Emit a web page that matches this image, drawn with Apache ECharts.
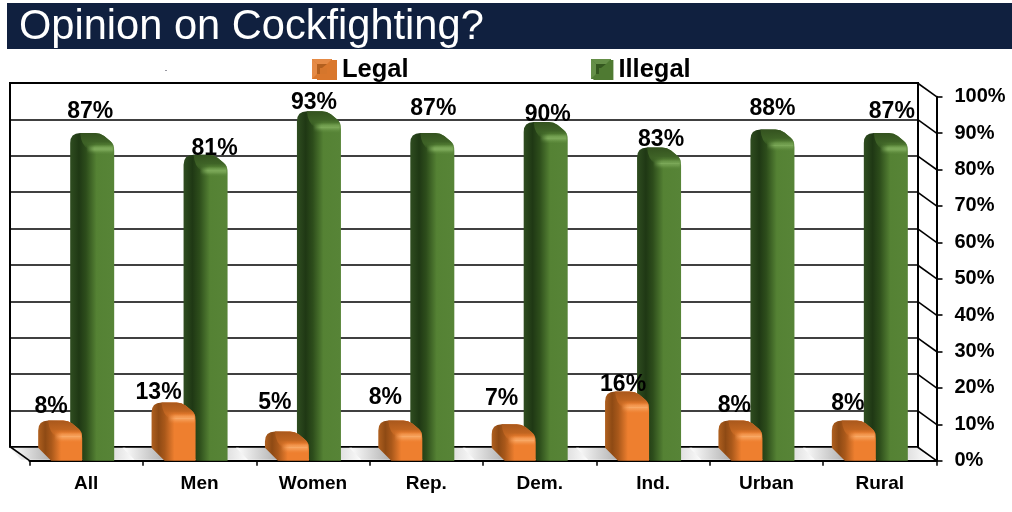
<!DOCTYPE html>
<html><head><meta charset="utf-8">
<style>html,body{margin:0;padding:0;background:#fff}#c{width:1012px;height:512px}</style>
<script src="https://cdn.jsdelivr.net/npm/echarts@6/dist/echarts.min.js"></script>
</head><body><div id="c"></div>
<script>
const categories = ['All','Men','Women','Rep.','Dem.','Ind.','Urban','Rural'];
const legal = [8,13,5,8,7,16,8,8];
const illegal = [87,81,93,87,90,83,88,87];
const tickValues = [0,10,20,30,40,50,60,70,80,90,100];
// label nudges relative to the bar's category centre and value position
const legalNudge = [[-35,-25],[-41,-21],[-38,-40],[-41,-34],[-38,-37],[-30,-18],[-32,-26],[-32,-28]];
const illegalNudge = [[4,-32],[15,-17],[1,-20],[7,-35],[8,-18],[8,-19],[6,-32],[12,-32]];

const FONT = '"Liberation Sans", Arial, sans-serif';
const orangePal = {
  side:[[0,'#b0601f'],[0.16,'#8e4a14'],[0.3,'#a9581a'],[0.52,'#ee7f2f'],[1,'#ee7f2f']],
  top:[[0,'#a9581c'],[0.55,'rgba(190,100,32,0.95)'],[1,'rgba(238,127,47,0)']],
  hi:'rgba(248,168,101,1)', hi0:'rgba(248,168,101,0)'
};
const greenPal = {
  side:[[0,'#2f4d20'],[0.2,'#1f3814'],[0.36,'#2d4d1b'],[0.6,'#558234'],[1,'#578437']],
  top:[[0,'#34521f'],[0.55,'rgba(62,98,38,0.95)'],[1,'rgba(87,132,55,0)']],
  hi:'rgba(123,168,88,1)', hi0:'rgba(123,168,88,0)'
};
function barRender(pal, fxOff){
  return function(params, api){
    const i = api.value(0), v = api.value(1);
    const c = api.coord([i, v]);
    const b = api.coord([i, 0])[1];
    const L = c[0] + fxOff - 13, F = c[0] + fxOff, R = F + 31;
    const T = c[1] - 11;
    const body = `M${F} ${b} L${L} ${b-13} L${L} ${T+10} Q${L} ${T} ${L+10} ${T} L${R-19} ${T} Q${R-14} ${T} ${R-10} ${T+3} L${R-4} ${T+8} Q${R} ${T+11} ${R} ${T+18} L${R} ${b} Z`;
    const top = `M${L+10} ${T} L${R-19} ${T} Q${R-14} ${T} ${R-10} ${T+3} L${R-4} ${T+8} Q${R} ${T+11} ${R} ${T+16} L${F+5} ${T+16} Q${F-2} ${T+12} ${L+10} ${T} Z`;
    const stops = a => a.map(s => ({offset:s[0], color:s[1]}));
    const hiFill = {type:'linear',x:0,y:0,x2:1,y2:0,colorStops:[
      {offset:0,color:pal.hi0},{offset:0.3,color:pal.hi},{offset:0.93,color:pal.hi},{offset:1,color:pal.hi0}]};
    const band = (dy,h,op) => ({type:'rect', shape:{x:F+3,y:T+dy,width:R-F-3,height:h}, style:{fill:hiFill, opacity:op}});
    return {type:'group', children:[
      {type:'path', shape:{pathData:body}, style:{fill:{type:'linear',x:0,y:0,x2:1,y2:0,colorStops:stops(pal.side)}}},
      {type:'path', shape:{pathData:top}, style:{fill:{type:'linear',x:0,y:0,x2:0,y2:1,colorStops:stops(pal.top)}}},
      band(12,1,0.25), band(13,1,0.55), band(14,1,0.85), band(15,2,1), band(17,1,0.8), band(18,1,0.5), band(19,1,0.25), band(20,1,0.1)
    ]};
  };
}
function labelRender(nudges){
  return function(params, api){
    const i = api.value(0), v = api.value(1);
    const c = api.coord([i, v]);
    return {type:'text', style:{x:c[0]+nudges[i][0], y:c[1]+nudges[i][1], text:v+'%',
      fill:'#000', font:'bold 23px '+FONT, align:'center', verticalAlign:'middle'}};
  };
}
function shadowRender(params, api){
  const i = api.value(0);
  const c = api.coord([i, 0]);
  const y = c[1];
  const piece = (x0, x1, col0, col1) => ({type:'polygon',
    shape:{points:[[x0-1,y-1],[x1-1,y-1],[x1-13,y-13],[x0-13,y-13]]},
    style:{fill:{type:'linear',x:0,y:0,x2:1,y2:0,colorStops:[{offset:0,color:col0},{offset:1,color:col1}]}}});
  return {type:'group', children:[
    piece(c[0]-64, c[0]-30, '#ffffff', '#a8a8a8'),
    piece(c[0]+28, c[0]+52, '#d0d0d0', '#ffffff')
  ]};
}
function connectorRender(params, api){
  const v = api.value(0);
  const cs = params.coordSys;
  const y = api.coord([0, v])[1];
  const x = cs.x + cs.width;
  const kids = [{type:'line', shape:{x1:x, y1:y, x2:x-19, y2:y-13.7}, style:{stroke:'#000', lineWidth:1.6}}];
  if (v === 0) kids.push({type:'line', shape:{x1:cs.x, y1:y, x2:cs.x-19, y2:y-13.7}, style:{stroke:'#000', lineWidth:1.6}});
  return {type:'group', children:kids};
}
const seq = a => a.map((v,i)=>[i,v]);
const bevel = (x,y,outer,dark,light,mid) => ([
  {type:'rect', shape:{x:x,y:y,width:20,height:20}, style:{fill:outer}, z:50},
  {type:'polygon', shape:{points:[[x,y],[x+20,y],[x+15,y+5],[x+5,y+5]]}, style:{fill:light}, z:51},
  {type:'polygon', shape:{points:[[x,y],[x+5,y+5],[x+5,y+15],[x,y+20]]}, style:{fill:light}, z:51},
  {type:'polygon', shape:{points:[[x+5,y+5],[x+15,y+5],[x+10,y+9],[x+8,y+15],[x+5,y+15]]}, style:{fill:dark}, z:51},
  {type:'rect', shape:{x:x+8,y:y+9,width:7,height:6}, style:{fill:mid}, z:51}
]);
const chart = echarts.init(document.getElementById('c'), null, {renderer:'canvas'});
chart.setOption({
  animation:false,
  backgroundColor:'#fff',
  title:{text:'Opinion on Cockfighting?', left:14, top:2,
    textStyle:{color:'#fff', fontFamily:FONT, fontWeight:'normal', fontSize:41.6}},
  legend:{left:312, top:52, itemWidth:20, itemHeight:20, itemGap:184.8, icon:'rect',
    selectedMode:false,
    textStyle:{color:'#000', fontFamily:FONT, fontWeight:'bold', fontSize:25.5, padding:[0,0,0,0]},
    data:[{name:'Legal', itemStyle:{color:'#d9772c'}},{name:'Illegal', itemStyle:{color:'#4f7a32'}}]},
  graphic:[
    {type:'rect', shape:{x:7,y:3,width:1005,height:46}, style:{fill:'#10203f'}, z:-10, silent:true},
    {type:'rect', shape:{x:165.5,y:70,width:1,height:1}, style:{fill:'#334'}, silent:true},
    ...bevel(312,59,'#d9772c','#b25f1e','#e58a45','#d5762c'),
    ...bevel(591,59,'#4f7a32','#34571f','#658f48','#4f7a32')
  ],
  grid:[
    {left:10, top:83, width:908, height:364, show:true, borderColor:'#000', borderWidth:2, backgroundColor:'transparent'},
    {left:29.5, top:96.7, width:907, height:364}
  ],
  xAxis:[
    {gridIndex:0, type:'category', data:categories, show:false},
    {gridIndex:1, type:'category', data:categories, position:'bottom',
      axisLine:{show:true, onZero:false, lineStyle:{color:'#000', width:2}},
      axisTick:{show:true, length:5, alignWithLabel:false, lineStyle:{color:'#000', width:1.5}},
      axisLabel:{color:'#000', fontFamily:FONT, fontWeight:'bold', fontSize:19, margin:14, interval:0},
      splitLine:{show:false}}
  ],
  yAxis:[
    {gridIndex:0, type:'value', min:0, max:100, interval:10, axisLine:{show:false}, axisTick:{show:false},
      axisLabel:{show:false}, splitLine:{show:true, lineStyle:{color:'#000', width:1.6}}},
    {gridIndex:1, type:'value', min:0, max:100, interval:10, position:'right',
      axisLine:{show:true, lineStyle:{color:'#000', width:2}},
      axisTick:{show:true, length:6, lineStyle:{color:'#000', width:1.6}},
      axisLabel:{color:'#000', fontFamily:FONT, fontWeight:'bold', fontSize:20, margin:18, padding:[4,0,0,0], formatter:'{value}%'},
      splitLine:{show:false}}
  ],
  series:[
    {name:'shadow', type:'custom', xAxisIndex:1, yAxisIndex:1, silent:true, z:2, data:seq(legal), renderItem:shadowRender, encode:{x:0,y:1}},
    {name:'connect', type:'custom', xAxisIndex:1, yAxisIndex:1, silent:true, z:2, data:tickValues.map(v=>[v]), renderItem:connectorRender, encode:{y:0}},
    {name:'Illegal', type:'custom', xAxisIndex:1, yAxisIndex:1, z:3, itemStyle:{color:'#4f7a32'}, data:seq(illegal), renderItem:barRender(greenPal,-3), encode:{x:0,y:1}},
    {name:'Legal', type:'custom', xAxisIndex:1, yAxisIndex:1, z:4, itemStyle:{color:'#d9772c'}, data:seq(legal), renderItem:barRender(orangePal,-35), encode:{x:0,y:1}},
    {name:'illegalLabels', type:'custom', xAxisIndex:1, yAxisIndex:1, silent:true, z:5, data:seq(illegal), renderItem:labelRender(illegalNudge), encode:{x:0,y:1}},
    {name:'legalLabels', type:'custom', xAxisIndex:1, yAxisIndex:1, silent:true, z:5, data:seq(legal), renderItem:labelRender(legalNudge), encode:{x:0,y:1}}
  ]
});
</script></body></html>
